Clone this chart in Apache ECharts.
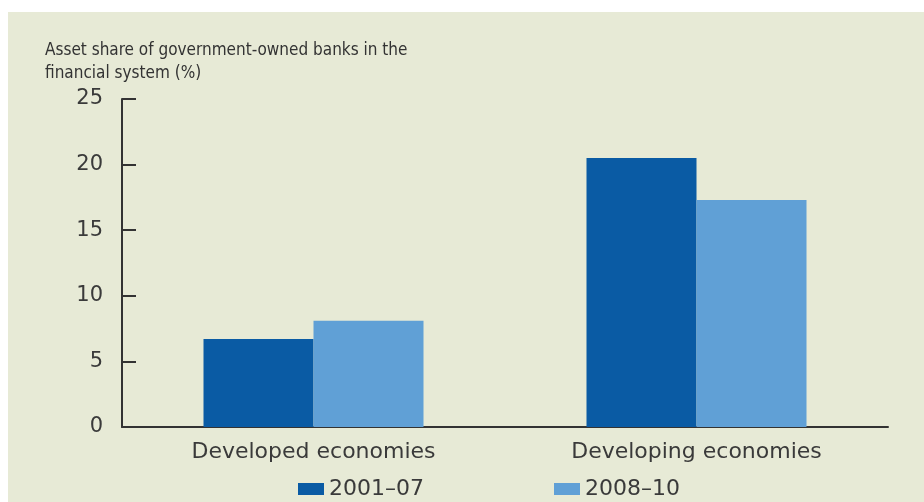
<!DOCTYPE html>
<html>
<head>
<meta charset="utf-8">
<script src="https://cdn.jsdelivr.net/npm/echarts@6/dist/echarts.min.js"></script>
<style>
  html, body { margin: 0; padding: 0; background: #fff; }
  #main { width: 924px; height: 502px; }
</style>
</head>
<body>
<div id="main"></div>
<script>
var categories = ['Developed economies', 'Developing economies'];
var seriesNames = ['2001\u201307', '2008\u201310'];
var values0107 = [6.7, 20.5];
var values0810 = [8.1, 17.3];
var yTicks = [0, 5, 10, 15, 20, 25];

var labelFont = 'DejaVu Sans';
var textColor = '#3a3a3a';

var chart = echarts.init(document.getElementById('main'));
var option = {
    backgroundColor: '#fff',
    animation: false,
    graphic: [{
        type: 'rect',
        left: 8, top: 12,
        shape: { width: 916, height: 490 },
        style: { fill: '#e7ead6' },
        z: -10
    }],
    title: {
        text: 'Asset share of government-owned banks in the\nfinancial system (%)',
        left: 40, top: 34,
        textStyle: {
            fontFamily: '"Liberation Sans Narrow", "Arial Narrow", "DejaVu Sans Condensed", Roboto, sans-serif',
            fontSize: 17,
            fontWeight: 'normal',
            lineHeight: 23,
            color: '#333'
        }
    },
    color: ['#0a5ba4', '#60a0d6'],
    legend: [{
        data: [seriesNames[0]],
        left: 293, top: 473,
        itemWidth: 26, itemHeight: 12,
        icon: 'rect',
        textStyle: { fontFamily: labelFont, fontSize: 22, color: textColor }
    }, {
        data: [seriesNames[1]],
        left: 549, top: 473,
        itemWidth: 26, itemHeight: 12,
        icon: 'rect',
        textStyle: { fontFamily: labelFont, fontSize: 22, color: textColor }
    }],
    grid: { left: 122, right: 36, top: 99, bottom: 75, containLabel: false },
    xAxis: {
        type: 'category',
        data: categories,
        axisLine: { lineStyle: { color: '#333', width: 2 } },
        axisTick: { inside: true, length: 6, interval: 0, lineStyle: { color: '#333', width: 2 } },
        axisLabel: { margin: 14, fontFamily: labelFont, fontSize: 22, color: textColor }
    },
    yAxis: {
        type: 'value',
        min: yTicks[0],
        max: yTicks[yTicks.length - 1],
        interval: yTicks[1] - yTicks[0],
        axisLine: { show: true, lineStyle: { color: '#333', width: 2 } },
        axisTick: { show: true, inside: true, length: 14, lineStyle: { color: '#333', width: 2 } },
        splitLine: { show: false },
        axisLabel: { margin: 19, fontFamily: labelFont, fontSize: 21, color: textColor }
    },
    series: [{
        name: seriesNames[0],
        type: 'bar',
        data: values0107,
        barWidth: 110,
        barGap: '0%'
    }, {
        name: seriesNames[1],
        type: 'bar',
        data: values0810,
        barWidth: 110,
        barGap: '0%'
    }]
};
chart.setOption(option);
window.onresize = chart.resize;
</script>
</body>
</html>
